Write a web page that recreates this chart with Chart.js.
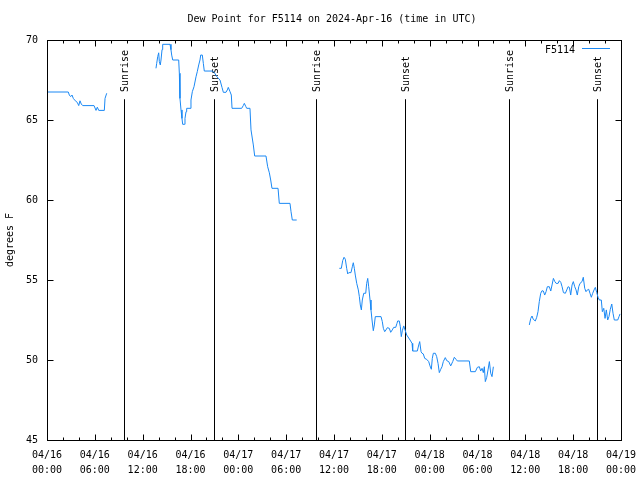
<!DOCTYPE html>
<html>
<head>
<meta charset="utf-8">
<script src="https://cdn.jsdelivr.net/npm/chart.js@4.4.1/dist/chart.umd.min.js"></script>
<style>
  html, body { margin: 0; padding: 0; background: #fff; }
  #wrap { width: 640px; height: 480px; }
</style>
</head>
<body>
<div id="wrap"><canvas id="chart"></canvas></div>
<script>
// hours since 2024-04-16 00:00 UTC; null = no data (gap)
const hours = [
  0, 2.67, 2.80, 2.97, 3.14, 3.30, 3.55, 3.80, 3.98, 4.14, 4.30, 4.48, 5.90, 6.15, 6.31, 6.49, 6.65, 7.19, 7.28, 7.49,
  10.5,
  13.67, 13.76, 13.89, 14.01, 14.09, 14.21, 14.30, 14.43, 14.51, 15.43, 15.55, 15.64, 15.77, 16.52, 16.60, 16.68, 16.81,
  16.93, 17.02, 17.22, 17.31, 17.44, 17.52, 17.94, 18.06, 18.23, 18.44, 18.69, 18.85, 19.03, 19.19, 19.28, 19.48, 19.61,
  19.73, 20.79, 21.04, 21.32, 21.70, 21.95, 22.12, 22.45, 22.62, 22.74, 22.96, 23.12, 23.21, 24.42, 24.62, 24.75, 24.93,
  25.05, 25.46, 25.59, 25.88, 26.05, 27.47, 27.68, 27.89, 28.06, 28.22, 28.98, 29.14, 30.48, 30.61, 30.77, 31.32,
  34.0,
  36.67, 36.92, 37.09, 37.26, 37.42, 37.59, 37.72, 37.85, 38.13, 38.30, 38.42, 38.55, 38.67, 38.85, 39.05, 39.18, 39.30,
  39.43, 39.55, 39.73, 39.98, 40.10, 40.23, 40.35, 40.52, 40.64, 40.77, 40.93, 41.06, 41.18, 41.90, 42.06, 42.19, 42.36,
  42.52, 42.69, 42.94, 43.11, 43.31, 43.49, 43.74, 43.90, 43.99, 44.19, 44.32, 44.44, 44.57, 44.75, 44.91, 45.12, 45.54,
  45.79, 45.87, 46.45, 46.63, 46.75, 46.92, 47.04, 47.20, 47.38, 47.63, 47.88, 48.04, 48.21, 48.33, 48.46, 48.71, 48.88,
  49.05, 49.21, 49.39, 49.55, 49.71, 49.96, 50.14, 50.39, 50.64, 50.89, 51.09, 51.31, 51.47, 52.97, 53.15, 53.73, 53.98,
  54.23, 54.40, 54.57, 54.73, 54.86, 54.98, 55.16, 55.32, 55.49, 55.66, 55.82, 55.99,
  58.0,
  60.50, 60.68, 60.84, 61.00, 61.25, 61.43, 61.59, 61.75, 61.93, 62.09, 62.26, 62.43, 62.60, 62.76, 63.01, 63.19, 63.35,
  63.52, 63.70, 63.86, 64.11, 64.27, 64.45, 64.61, 64.78, 65.02, 65.20, 65.36, 65.53, 65.69, 65.86, 66.02, 66.20, 66.36,
  66.52, 66.70, 66.86, 67.11, 67.27, 67.45, 67.61, 67.78, 67.95, 68.11, 68.28, 68.45, 68.62, 68.78, 68.96, 69.12, 69.28,
  69.53, 69.66, 69.84, 70.00, 70.16, 70.33, 70.49, 70.66, 70.84, 71.00, 71.16, 71.59, 71.75, 71.88
];
const dewPoint = [
  66.75, 66.75, 66.56, 66.46, 66.56, 66.35, 66.2, 66.1, 65.9, 66.2, 66.0, 65.9, 65.9, 65.6, 65.8, 65.6, 65.6, 65.6, 66.35, 66.67,
  null,
  68.23, 68.54, 68.96, 69.2, 68.65, 68.44, 68.75, 69.4, 69.73, 69.73, 69.4, 69.06, 68.75, 68.75, 67.92, 66.35, 65.63,
  65.1, 64.73, 64.73, 65.1, 65.52, 65.73, 65.73, 66.25, 66.77, 67.08, 67.7, 68.02, 68.44, 68.75, 69.06, 69.06, 68.54,
  68.06, 68.06, 67.92, 67.7, 67.5, 67.04, 66.73, 66.73, 66.88, 67.04, 66.77, 66.56, 65.73, 65.73, 65.9, 66.04, 65.85,
  65.73, 65.73, 64.38, 63.44, 62.75, 62.75, 62.08, 61.7, 61.25, 60.73, 60.73, 59.79, 59.79, 59.27, 58.75, 58.75,
  null,
  55.73, 55.73, 56.21, 56.42, 56.3, 55.73, 55.38, 55.46, 55.46, 55.83, 56.08, 55.73, 55.31, 54.79, 54.38, 53.96, 53.44,
  53.13, 53.75, 54.17, 54.17, 54.79, 55.1, 54.58, 53.75, 53.13, 52.5, 51.83, 52.19, 52.71, 52.71, 52.4, 51.98, 51.77,
  51.88, 52.02, 51.98, 51.73, 51.88, 52.04, 52.04, 52.29, 52.44, 52.44, 52.08, 51.46, 51.83, 52.13, 51.88, 51.56, 51.25,
  51.04, 50.56, 50.56, 50.94, 51.15, 50.52, 50.42, 50.38, 50.1, 50.04, 49.9, 49.63, 49.42, 50.1, 50.42, 50.42, 50.21,
  49.79, 49.21, 49.42, 49.58, 49.9, 50.15, 49.96, 49.9, 49.63, 49.9, 50.17, 50.04, 49.94, 49.94, 49.27, 49.27, 49.54,
  49.58, 49.31, 49.48, 49.21, 49.58, 48.65, 48.92, 49.38, 49.9, 49.17, 48.96, 49.58,
  null,
  52.19, 52.6, 52.75, 52.54, 52.44, 52.67, 53.02, 53.65, 54.17, 54.33, 54.31, 54.06, 54.27, 54.58, 54.58, 54.31, 54.69,
  55.1, 54.9, 54.79, 54.79, 54.96, 54.85, 54.58, 54.21, 54.17, 54.38, 54.58, 54.54, 54.06, 54.69, 54.9, 54.58, 54.38,
  54.06, 54.58, 54.79, 54.9, 55.17, 54.48, 54.27, 54.38, 54.42, 54.17, 53.92, 54.17, 54.38, 54.54, 54.21, 53.92, 53.75,
  53.75, 53.02, 53.23, 52.6, 53.13, 52.5, 52.71, 53.17, 53.5, 52.92, 52.5, 52.5, 52.71, 52.88
];
const sunLabels = ['Sunrise', 'Sunset', 'Sunrise', 'Sunset', 'Sunrise', 'Sunset'];
const sunHours = [9.70, 20.99, 33.74, 44.95, 57.92, 69.03];
const xTickLabels = [
  '04/16\n00:00', '04/16\n06:00', '04/16\n12:00', '04/16\n18:00', '04/17\n00:00', '04/17\n06:00', '04/17\n12:00',
  '04/17\n18:00', '04/18\n00:00', '04/18\n06:00', '04/18\n12:00', '04/18\n18:00', '04/19\n00:00'
];
const yTicks = [45, 50, 55, 60, 65, 70];
const seriesName = 'F5114';
const chartTitle = 'Dew Point for F5114 on 2024-Apr-16 (time in UTC)';
const yTitle = 'degrees F';

const FONT = '"DejaVu Sans Mono", "Liberation Mono", monospace';
const LINE_COLOR = '#1a88f4';

const points = hours.map((h, i) => ({ x: h, y: dewPoint[i] }));

// frame, inward ticks, sunrise/sunset markers, title, legend
const gnuplotLook = {
  id: 'gnuplotLook',
  beforeDatasetsDraw(chart) {
    const { ctx, chartArea: a, scales: { x, y } } = chart;
    ctx.save();
    ctx.strokeStyle = '#000';
    ctx.lineWidth = 1;
    const lineTop = y.getPixelForValue(66.3);
    sunHours.forEach((h, i) => {
      const px = Math.round(x.getPixelForValue(h)) + 0.5;
      ctx.beginPath();
      ctx.moveTo(px, a.bottom);
      ctx.lineTo(px, lineTop);
      ctx.stroke();
      ctx.save();
      ctx.translate(px + 1, y.getPixelForValue(66.75));
      ctx.rotate(-Math.PI / 2);
      ctx.fillStyle = '#000';
      ctx.font = '10px ' + FONT;
      ctx.textAlign = 'left';
      ctx.textBaseline = 'middle';
      ctx.fillText(sunLabels[i], 0, 0);
      ctx.restore();
    });
    ctx.restore();
  },
  afterDraw(chart) {
    const { ctx, chartArea: a, scales: { x, y } } = chart;
    ctx.save();
    ctx.strokeStyle = '#000';
    ctx.lineWidth = 1;
    const L = Math.round(a.left) + 0.5, R = Math.round(a.right) + 0.5;
    const T = Math.round(a.top) + 0.5, B = Math.round(a.bottom) + 0.5;
    ctx.strokeRect(L, T, R - L, B - T);
    ctx.beginPath();
    for (let h = 0; h <= 72; h += 2) {
      const px = Math.round(x.getPixelForValue(h)) + 0.5;
      const len = h % 6 === 0 ? 6 : 3;
      ctx.moveTo(px, B); ctx.lineTo(px, B - len);
      ctx.moveTo(px, T); ctx.lineTo(px, T + len);
    }
    yTicks.forEach(v => {
      const py = Math.round(y.getPixelForValue(v)) + 0.5;
      ctx.moveTo(L, py); ctx.lineTo(L + 6, py);
      ctx.moveTo(R, py); ctx.lineTo(R - 6, py);
    });
    ctx.stroke();

    ctx.fillStyle = '#000';
    ctx.font = '10px ' + FONT;
    ctx.textAlign = 'center';
    ctx.textBaseline = 'middle';
    ctx.fillText(chartTitle, 332, 19);

    ctx.save();
    ctx.translate(10, 240);
    ctx.rotate(-Math.PI / 2);
    ctx.fillText(yTitle, 0, 0);
    ctx.restore();

    ctx.textAlign = 'right';
    ctx.fillText(seriesName, 575, 50);
    ctx.strokeStyle = LINE_COLOR;
    ctx.beginPath();
    ctx.moveTo(582, 48.5);
    ctx.lineTo(610, 48.5);
    ctx.stroke();
    ctx.restore();
  }
};

new Chart(document.getElementById('chart'), {
  type: 'line',
  data: {
    datasets: [{
      label: seriesName,
      data: points,
      borderColor: LINE_COLOR,
      borderWidth: 1,
      pointRadius: 0,
      spanGaps: false,
      tension: 0,
      fill: false
    }]
  },
  options: {
    responsive: true,
    maintainAspectRatio: false,
    animation: false,
    events: [],
    layout: { padding: { top: 40, right: 19, left: 0, bottom: 0 } },
    plugins: { legend: { display: false }, tooltip: { enabled: false }, title: { display: false } },
    scales: {
      x: {
        type: 'linear', min: 0, max: 72,
        grid: { display: false, drawTicks: false },
        border: { display: false },
        afterFit: s => { s.height = 40; s.paddingLeft = 0; s.paddingRight = 0; },
        afterBuildTicks: s => { s.ticks = xTickLabels.map((_, i) => ({ value: i * 6 })); },
        ticks: {
          autoSkip: false, maxRotation: 0, color: '#000', padding: 8,
          font: { family: FONT, size: 10, lineHeight: 1.5 },
          callback: (v, i) => xTickLabels[i].split('\n')
        }
      },
      y: {
        min: 45, max: 70,
        grid: { display: false, drawTicks: false },
        border: { display: false },
        afterFit: s => { s.width = 47; s.paddingTop = 0; s.paddingBottom = 0; },
        afterBuildTicks: s => { s.ticks = yTicks.map(v => ({ value: v })); },
        ticks: { color: '#000', padding: 9, font: { family: FONT, size: 10 } }
      }
    }
  },
  plugins: [gnuplotLook]
});
</script>
</body>
</html>
